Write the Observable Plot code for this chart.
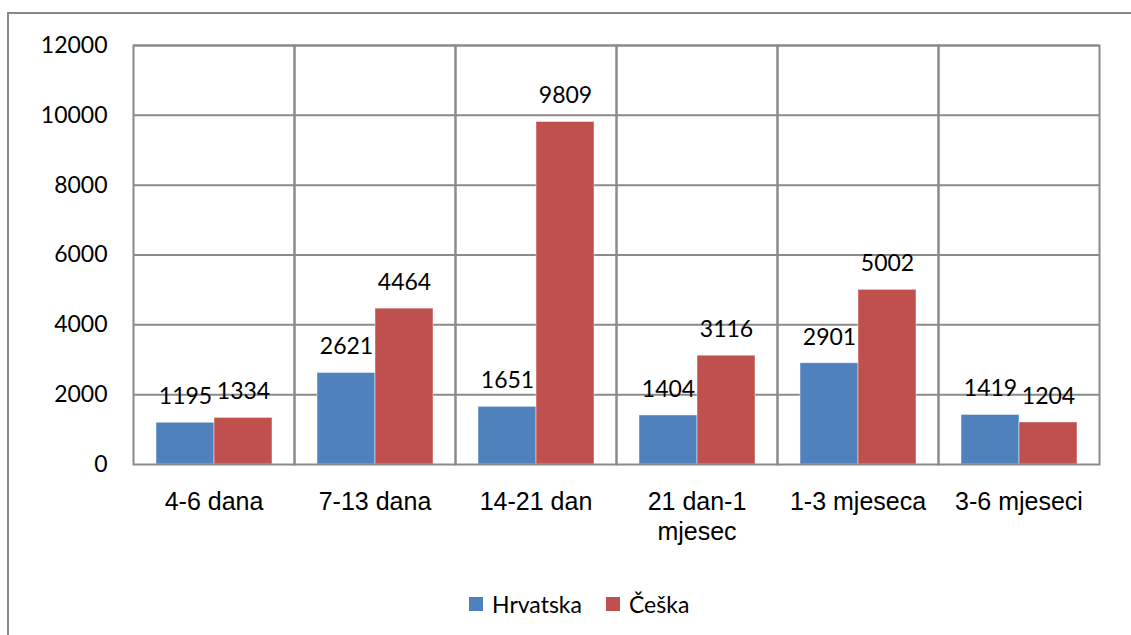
<!DOCTYPE html>
<html>
<head>
<meta charset="utf-8">
<script src="https://cdn.jsdelivr.net/npm/d3@7"></script>
<script src="https://cdn.jsdelivr.net/npm/@observablehq/plot@0.6"></script>
<style>
  html, body { margin: 0; padding: 0; background: #fff; overflow: hidden; }
  #chart { position: relative; z-index: 1; }
  #frame { position: absolute; left: 7px; top: 12px; width: 2000px; height: 2000px;
           border: 2px solid #898989; pointer-events: none; z-index: 5; }
  #legend { display: flex; align-items: center; margin-left: 469px; margin-top: 14px; height: 30px;
            font-family: Lato, "Open Sans", sans-serif; font-size: 23px; color: #000; }
  #legend .sw { width: 14px; height: 14px; margin-right: 9px; }
  #legend .item { display: flex; align-items: center; margin-right: 24px; }
</style>
</head>
<body>
<div id="chart"></div>
<div id="frame"></div>
<script>
const categories = ["4-6 dana", "7-13 dana", "14-21 dan", "21 dan-1\nmjesec", "1-3 mjeseca", "3-6 mjeseci"];
const seriesNames = ["Hrvatska", "Češka"];
const hrvatska = [1195, 2621, 1651, 1404, 2901, 1419];
const ceska = [1334, 4464, 9809, 3116, 5002, 1204];
const yTicks = [0, 2000, 4000, 6000, 8000, 10000, 12000];
const colors = ["#4F81BD", "#C0504D"];

const rows = [];
categories.forEach((c, i) => {
  rows.push({cat: c, series: seriesNames[0], value: hrvatska[i]});
  rows.push({cat: c, series: seriesNames[1], value: ceska[i]});
});

const grid = "#8a8a8a";

const chart = Plot.plot({
  width: 1131,
  height: 575,
  marginLeft: 131,
  marginRight: 31,
  marginTop: 45,
  marginBottom: 111,
  fx: {domain: categories, padding: 0, label: null, axis: null},
  x: {domain: seriesNames, paddingInner: 0, paddingOuter: 0.3686, axis: null},
  y: {domain: [0, 12000], axis: null},
  color: {domain: seriesNames, range: colors},
  marks: [
    Plot.ruleY(yTicks.slice(1), {stroke: grid, strokeWidth: 2}),
    Plot.barY(rows, {fx: "cat", x: "series", y: "value", fill: "series",
      stroke: "#ffffff", strokeOpacity: 0.45, strokeWidth: 1}),
    Plot.frame({stroke: grid, strokeWidth: 2}),
    Plot.text(rows, {fx: "cat", x: "series", y: "value", text: d => String(d.value),
      dy: -26, lineAnchor: "middle", textAnchor: "middle",
      fontSize: 23, fontFamily: "Lato, 'Open Sans', sans-serif", fill: "#000"}),
    Plot.axisY(yTicks, {tickSize: 0, tickPadding: 26, label: null, tickFormat: d => String(d),
      fontSize: 23, fontFamily: "Lato, 'Open Sans', sans-serif", fill: "#000"}),
    Plot.axisFx({anchor: "bottom", tickSize: 0, tickPadding: 24, label: null,
      fontSize: 25, lineHeight: 1.2, fontFamily: "'Liberation Sans', Arial, sans-serif", fill: "#000"})
  ]
});

const host = document.getElementById("chart");
host.appendChild(chart);

const legend = document.createElement("div");
legend.id = "legend";
seriesNames.forEach((s, i) => {
  const item = document.createElement("div");
  item.className = "item";
  const sw = document.createElement("div");
  sw.className = "sw";
  sw.style.background = colors[i];
  const t = document.createElement("span");
  t.textContent = s;
  item.appendChild(sw);
  item.appendChild(t);
  legend.appendChild(item);
});
host.appendChild(legend);
</script>
</body>
</html>
